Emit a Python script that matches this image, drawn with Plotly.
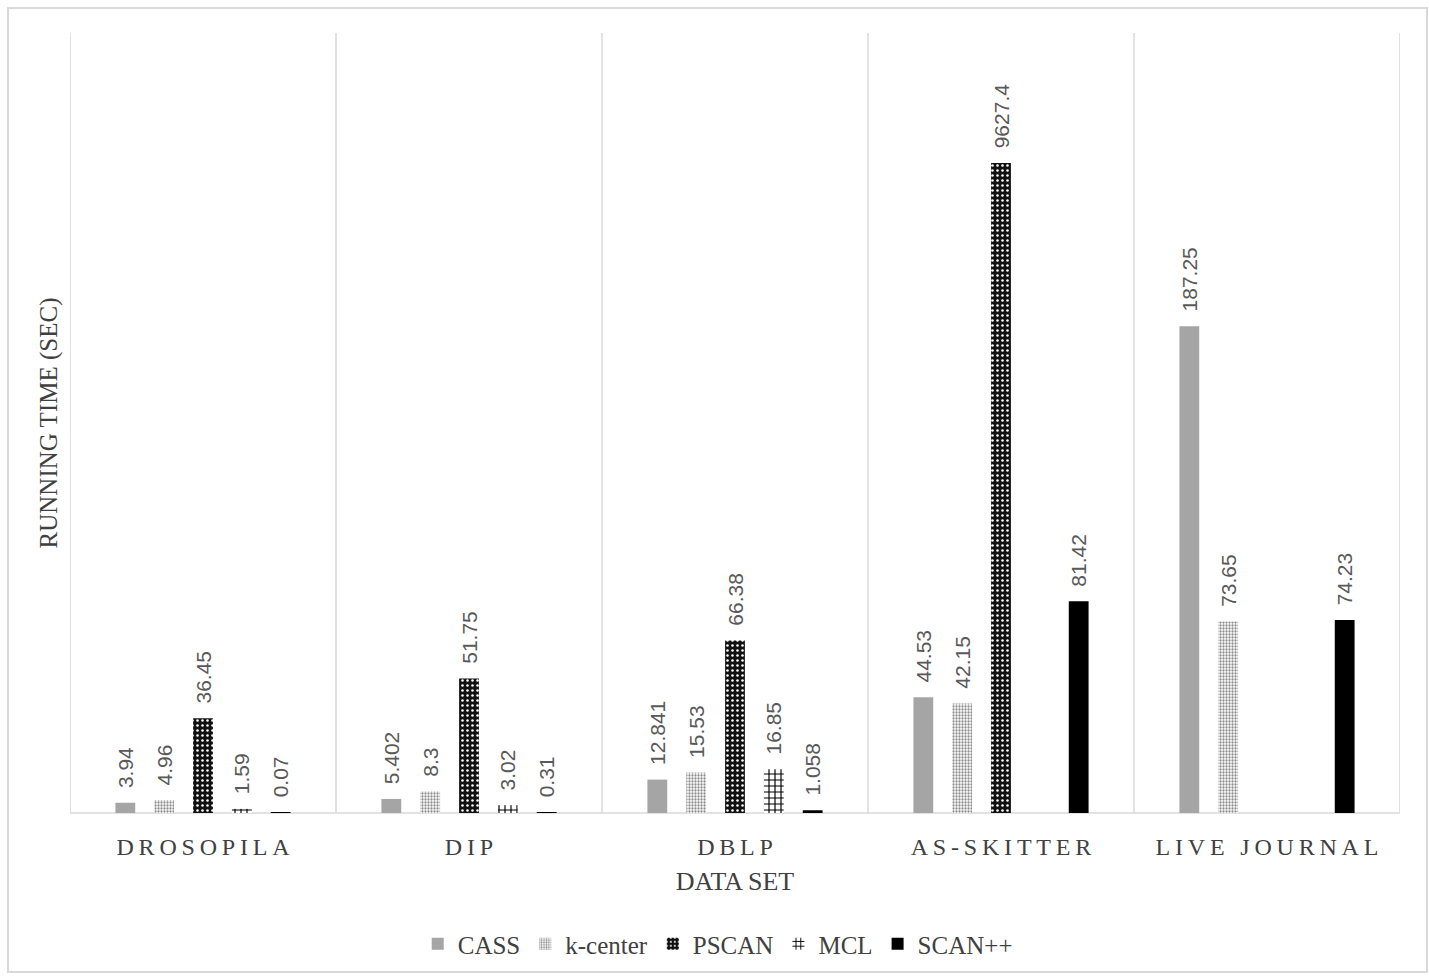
import plotly.graph_objects as go

# ---- data ----
categories = ["DROSOPILA", "DIP", "DBLP", "AS-SKITTER", "LIVE JOURNAL"]
series_names = ["CASS", "k-center", "PSCAN", "MCL", "SCAN++"]
cass = [3.94, 5.402, 12.841, 44.53, 187.25]
kcenter = [4.96, 8.3, 15.53, 42.15, 73.65]
pscan = [36.45, 51.75, 66.38, 9627.4, None]
mcl = [1.59, 3.02, 16.85, None, None]
scanpp = [0.07, 0.31, 1.058, 81.42, 74.23]
label_text = {
    "CASS": ["3.94", "5.402", "12.841", "44.53", "187.25"],
    "k-center": ["4.96", "8.3", "15.53", "42.15", "73.65"],
    "PSCAN": ["36.45", "51.75", "66.38", "9627.4", ""],
    "MCL": ["1.59", "3.02", "16.85", "", ""],
    "SCAN++": ["0.07", "0.31", "1.058", "81.42", "74.23"],
}
AXIS_CAP = 250  # the broken (truncated) bar is drawn at this height
Y_MAX = 300

values = {"CASS": cass, "k-center": kcenter, "PSCAN": pscan, "MCL": mcl, "SCAN++": scanpp}

patterns = {
    "CASS": dict(color="#a5a5a5", pattern=None),
    "k-center": dict(color="#ffffff", pattern=dict(shape=".", fgcolor="#8c8c8c", bgcolor="#ffffff",
                                                   size=3, solidity=0.45, fillmode="replace")),
    "PSCAN": dict(color="#000000", pattern=dict(shape=".", fgcolor="#ffffff", bgcolor="#111111",
                                                size=5, solidity=0.2, fillmode="replace")),
    "MCL": dict(color="#ffffff", pattern=dict(shape="+", fgcolor="#000000", bgcolor="#ffffff",
                                              size=6, solidity=0.35, fillmode="replace")),
    "SCAN++": dict(color="#000000", pattern=None),
}

SERIF = "Liberation Serif, Times New Roman, serif"
SANS = "Liberation Sans, Arial, sans-serif"

fig = go.Figure()
for name in series_names:
    vals = values[name]
    heights = [None if v is None else min(v, AXIS_CAP) for v in vals]
    texts = [("\u00a0\u00a0" + t) if t else "" for t in label_text[name]]
    st = patterns[name]
    marker = dict(color=st["color"], line=dict(width=0))
    if st["pattern"] is not None:
        marker["pattern"] = st["pattern"]
    fig.add_trace(go.Bar(
        name=name, x=categories, y=heights, text=texts,
        textposition="outside", textangle=-90, constraintext="none",
        cliponaxis=False,
        textfont=dict(family=SANS, size=21, color="#595959"),
        marker=marker, hoverinfo="skip",
    ))

def spaced(s):
    return "\u2009".join(list(s))

# vertical separators between categories + baseline
shapes = []
for i in range(len(categories) + 1):
    shapes.append(dict(type="line", xref="x", yref="paper", x0=i - 0.5, x1=i - 0.5, y0=0, y1=1,
                       line=dict(color="#d9d9d9", width=1.5), layer="below"))
shapes.append(dict(type="line", xref="paper", yref="paper", x0=0, x1=1, y0=0, y1=0,
                   line=dict(color="#d9d9d9", width=1.5), layer="below"))
# outer chart border
shapes.append(dict(type="rect", xref="paper", yref="paper",
                   x0=(8 - 70) / 1330, x1=(1427 - 70) / 1330,
                   y0=(813 - 972) / 780, y1=(813 - 8) / 780,
                   line=dict(color="#d9d9d9", width=2), fillcolor="rgba(0,0,0,0)", layer="below"))

fig.update_layout(
    width=1429, height=976,
    margin=dict(l=70, r=29, t=33, b=163, autoexpand=False),
    paper_bgcolor="white", plot_bgcolor="white",
    barmode="group", bargap=0.27, bargroupgap=0.49,
    showlegend=True,
    legend=dict(orientation="h", x=0.487, xanchor="center", y=-0.168, yanchor="middle",
                font=dict(family=SERIF, size=25, color="#404040"),
                itemsizing="constant", traceorder="normal", itemwidth=30),
    shapes=shapes,
    xaxis=dict(
        type="category", range=[-0.5, len(categories) - 0.5], automargin=False,
        tickvals=categories, ticktext=[spaced(c) for c in categories],
        tickfont=dict(family=SERIF, size=24, color="#404040"),
        showgrid=False, showline=False, zeroline=False, ticks="",
        ticklabelstandoff=17,
        title=dict(text="DATA SET", font=dict(family=SERIF, size=26, color="#404040"), standoff=12),
    ),
    yaxis=dict(
        range=[0, Y_MAX], showticklabels=False, showgrid=False, zeroline=False, showline=False,
        ticks="", automargin=False,
        title=dict(text="RUNNING TIME (SEC)", font=dict(family=SERIF, size=25, color="#404040"),
                   standoff=4),
    ),
)

fig.write_html("out.html")
